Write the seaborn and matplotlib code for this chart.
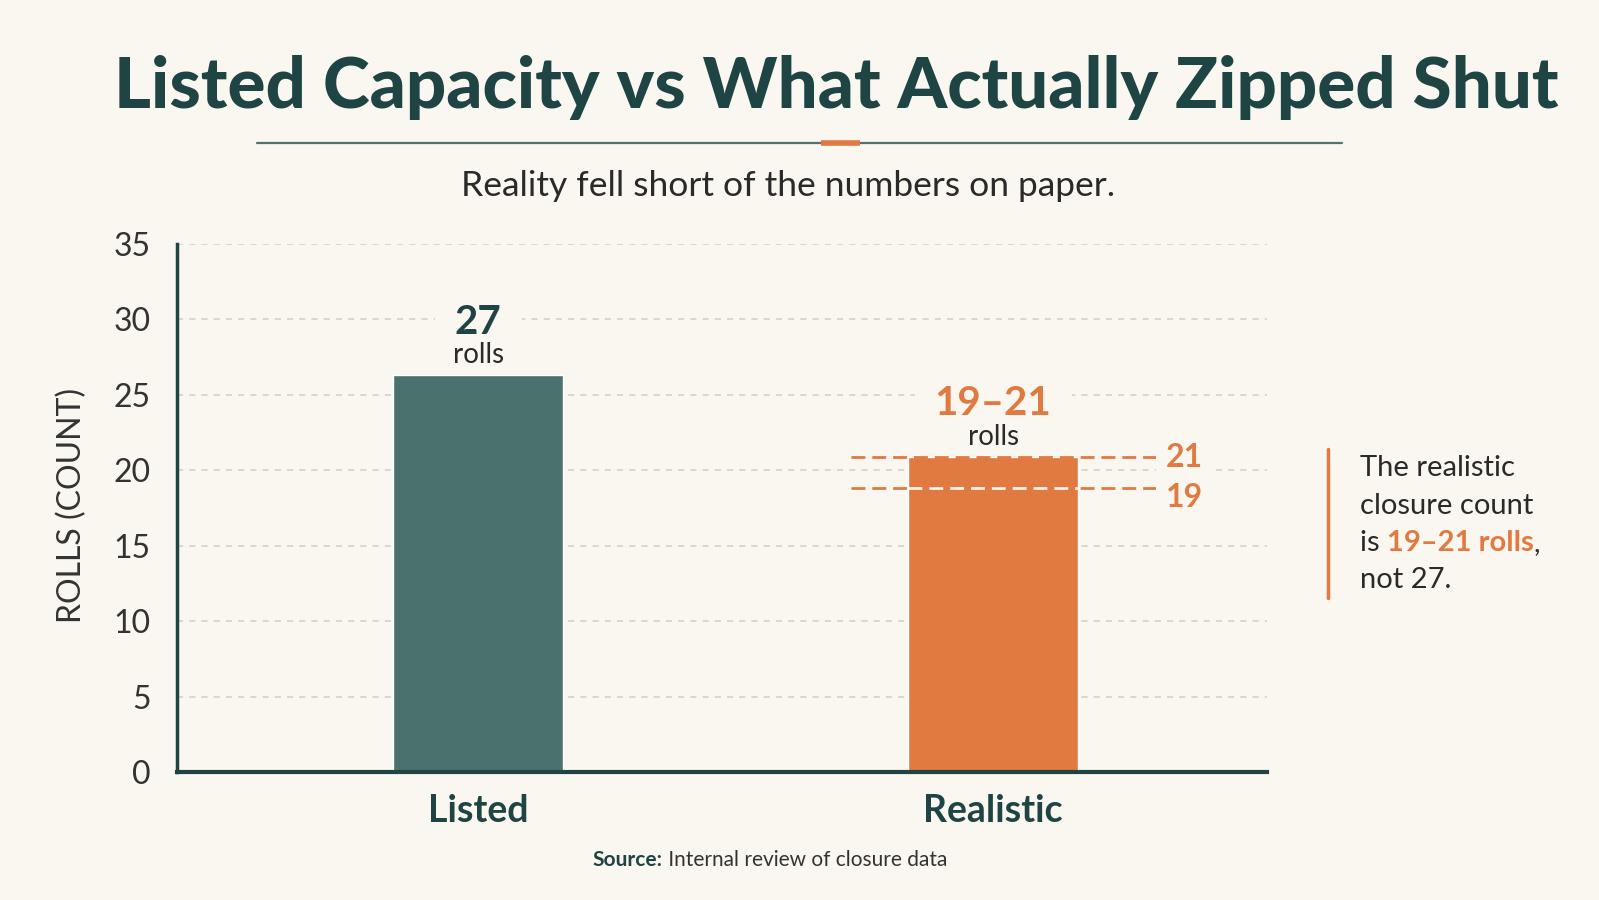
import matplotlib
matplotlib.use("Agg")
import matplotlib.pyplot as plt
from matplotlib.lines import Line2D
import seaborn as sns
import pandas as pd

# %%
# data
categories = ["Listed", "Realistic"]
bar_values = [26.3, 20.9]
value_labels = ["27", "19–21"]
range_levels = [21, 19]
y_ticks = [0, 5, 10, 15, 20, 25, 30, 35]

BG = "#faf6f0"
TEAL = "#4a716d"
DARK = "#1e4444"
ORANGE = "#e07a40"
INK = "#2a2a2a"
GRID = "#d2cdc5"
W, H = 1599, 900

sns.set_theme(style="white")
plt.rcParams["font.family"] = ["Lato", "DejaVu Sans"]

fig = plt.figure(figsize=(W / 100, H / 100), dpi=100, facecolor=BG)
ax = fig.add_axes([177 / W, 1 - 772 / H, (1267 - 177) / W, (772 - 244) / H])
ax.set_facecolor(BG)

# %%
df = pd.DataFrame({"cat": categories, "val": bar_values})
sns.barplot(data=df, x="cat", y="val", hue="cat", palette=[TEAL, ORANGE],
            width=0.33, saturation=1, legend=False, ax=ax, zorder=2)

ax.set_xlim(-0.585, 1.532)
ax.set_ylim(0, 35)
ax.set_yticks(y_ticks)
ax.yaxis.grid(True, color=GRID, lw=1.1, ls=(0, (4, 4)), zorder=0)
ax.set_axisbelow(True)

for side in ["top", "right"]:
    ax.spines[side].set_visible(False)
ax.spines["left"].set_color(DARK)
ax.spines["left"].set_linewidth(2.5)
ax.spines["bottom"].set_color(DARK)
ax.spines["bottom"].set_linewidth(3)

ax.tick_params(axis="y", length=7, width=2, color=DARK, pad=12,
               labelsize=23, labelcolor="#333333")
ax.tick_params(axis="x", length=0, pad=16, labelsize=27, labelcolor=DARK)
for lab in ax.get_xticklabels():
    lab.set_fontweight("bold")
ax.set_xlabel("")
ax.set_ylabel("")

# %%
# value labels over bars
box = dict(boxstyle="square,pad=0.5", fc=BG, ec="none")
label_colors = [DARK, ORANGE]
for i, (v, txt) in enumerate(zip(bar_values, value_labels)):
    ax.annotate(txt, (i, v), xytext=(0, 38), textcoords="offset points",
                ha="center", va="center", fontsize=29, fontweight="bold",
                color=label_colors[i], bbox=box, zorder=4)
    ax.annotate("rolls", (i, v), xytext=(0, 14.5), textcoords="offset points",
                ha="center", va="center", fontsize=20, color=INK, zorder=4)

# range lines for the realistic bar
label_shift = {21: 0, 19: -0.65}
for lvl in range_levels:
    ax.plot([0.724, 1.32], [lvl - 0.15, lvl - 0.15], color=ORANGE, lw=2,
            ls=(0, (5, 2.5)), zorder=3)
    ax.text(1.335, lvl + label_shift[lvl] - 0.15, str(lvl), ha="left", va="center",
            fontsize=23, fontweight="bold", color=ORANGE, zorder=4,
            bbox=dict(boxstyle="square,pad=0.3", fc=BG, ec="none"))
ax.plot([1 - 0.166, 1 + 0.166], [range_levels[1] - 0.15] * 2, color="#fdf3ea", lw=2,
        ls=(0, (5, 2.5)), zorder=3.5)

# %%
# title block
fig.text(0.523, 1 - 88 / H, "Listed Capacity vs What Actually Zipped Shut",
         ha="center", va="center", fontsize=51, fontweight="black", color=DARK)
fig.add_artist(Line2D([257 / W, 1342 / W], [1 - 143 / H] * 2, color="#55716f", lw=1.6))
fig.add_artist(Line2D([821 / W, 860 / W], [1 - 143 / H] * 2, color=ORANGE, lw=4,
                      solid_capstyle="butt"))
fig.text(788 / W, 1 - 186 / H, "Reality fell short of the numbers on paper.",
         ha="center", va="center", fontsize=25.5, color=INK)

fig.text(72 / W, 1 - 505 / H, "ROLLS (COUNT)", rotation=90, ha="center",
         va="center", fontsize=23, color="#333333")

# %%
renderer = fig.canvas.get_renderer()


def run_text(x_px, y_px, pieces, size, center=False):
    arts = []
    for text, color, weight in pieces:
        t = fig.text(0, 1 - y_px / H, text, ha="left", va="center",
                     fontsize=size, color=color, fontweight=weight)
        arts.append(t)
    widths = [a.get_window_extent(renderer=renderer).width for a in arts]
    x = x_px - sum(widths) / 2 if center else x_px
    for a, w in zip(arts, widths):
        a.set_x(x / W)
        x += w


# side note
fig.add_artist(Line2D([1328 / W] * 2, [1 - 449 / H, 1 - 598 / H], color=ORANGE, lw=2.5))
note_y = [468, 506, 543, 580]
run_text(1360, note_y[0], [("The realistic", INK, "normal")], 21)
run_text(1360, note_y[1], [("closure count", INK, "normal")], 21)
run_text(1360, note_y[2], [("is ", INK, "normal"), ("19–21 rolls", ORANGE, "bold"),
                            (",", INK, "normal")], 21)
run_text(1360, note_y[3], [("not 27.", INK, "normal")], 21)

run_text(770, 860, [("Source:", DARK, "bold"),
                    (" Internal review of closure data", "#333333", "normal")],
         15, center=True)

plt.savefig("out.png", dpi=100, facecolor=BG)
